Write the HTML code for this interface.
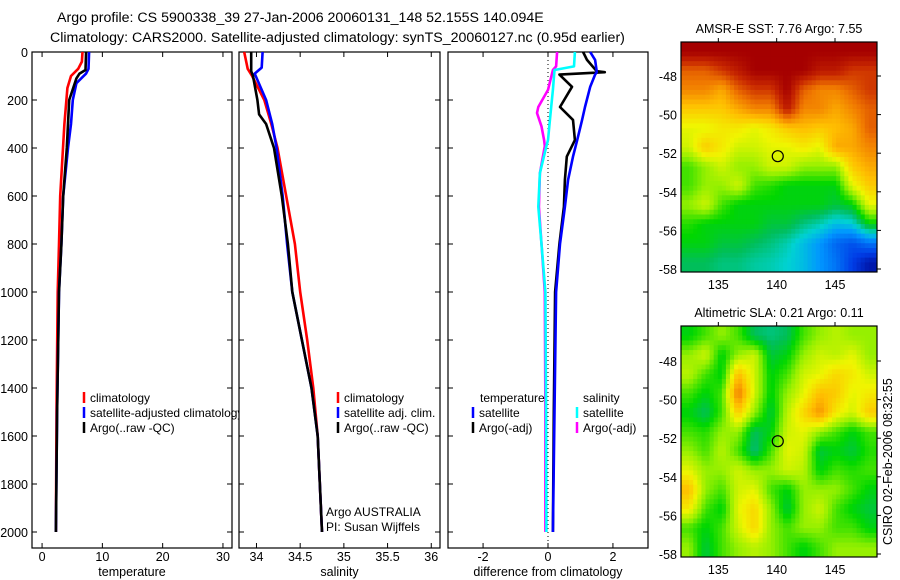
<!DOCTYPE html>
<html><head><meta charset="utf-8"><style>
body{margin:0;background:#fff;}
svg{display:block;font-family:"Liberation Sans",sans-serif;}
</style></head><body>
<svg id="fig" width="900" height="580" viewBox="0 0 900 580">
<text x="57" y="22" font-size="14.2">Argo profile: CS 5900338_39 27-Jan-2006 20060131_148 52.155S 140.094E</text>
<text x="50" y="42" font-size="14.2">Climatology: CARS2000. Satellite-adjusted climatology: synTS_20060127.nc (0.95d earlier)</text>
<text transform="translate(892,545) rotate(-90)" font-size="12.5">CSIRO 02-Feb-2006 08:32:55</text>
</svg>
<script>
// ---- profile data ----
const tDepthClim=[0,40,70,100,150,300,600,800,1000,1500,2000];
const tClim=[6.7,6.6,6.0,4.8,4.2,3.7,3.0,2.8,2.6,2.4,2.3];
const tDepthArgo=[0,75,90,110,200,300,400,600,800,1000,1500,2000];
const tArgo=[7.3,7.2,6.2,5.7,4.5,4.3,4.1,3.5,3.2,2.8,2.5,2.3];
const tDepthSat=[0,70,90,130,200,300,400,600,800,1000,1500,2000];
const tSat=[7.8,7.7,7.3,5.7,5.1,4.8,4.3,3.5,3.2,2.8,2.5,2.3];

const sDepthClim=[0,70,100,200,300,400,600,800,1000,1200,1400,1600,2000];
const sClim=[33.86,33.9,33.95,34.09,34.17,34.24,34.34,34.44,34.50,34.58,34.65,34.70,34.75];
const sDepthSat=[0,65,90,200,300,400,600,800,1000,1200,1400,1600,2000];
const sSat=[34.07,34.06,33.98,34.11,34.18,34.23,34.30,34.35,34.41,34.52,34.63,34.70,34.75];
const sDepthArgo=[0,80,100,200,260,300,400,600,800,1000,1200,1400,1600,2000];
const sArgo=[33.94,33.94,33.96,34.01,34.03,34.11,34.20,34.29,34.36,34.41,34.52,34.63,34.70,34.75];

const dDepthTS=[0,33,80,84,94,145,229,283,367,436,533,645,800,1000,1500,2000];
const dTempSat=[1.3,1.45,1.5,1.5,1.45,1.3,1.14,1.05,0.9,0.77,0.62,0.52,0.37,0.25,0.2,0.15];
const dTempArgo=[1.08,1.2,1.5,1.75,0.35,0.74,0.37,0.77,0.83,0.58,0.52,0.49,0.35,0.22,0.18,0.15];
const dDepthS=[0,60,75,158,229,254,310,367,392,505,645,800,1000,1500,2000];
const dSalSat=[0.83,0.8,0.2,0.15,0.1,0.08,0.04,0.0,-0.05,-0.25,-0.3,-0.2,-0.08,-0.06,-0.05];
const dSalArgo=[0.28,0.25,0.15,0.0,-0.3,-0.34,-0.2,-0.12,-0.1,-0.25,-0.28,-0.2,-0.1,-0.08,-0.08];

// ---- map data (0..1 colour index) ----
const sstGrid=[
[1,1,1,1,1,1,1,1,1,1,1,1],
[.85,.85,.9,.95,1,1,1,1,.95,.95,.9,.9],
[.8,.8,.75,.85,.9,.9,1,.85,.8,.8,.85,.9],
[.7,.7,.7,.75,.8,.8,.95,.8,.8,.75,.8,.85],
[.62,.62,.65,.65,.62,.65,.7,.72,.7,.72,.75,.85],
[.6,.7,.65,.6,.6,.62,.62,.65,.62,.75,.75,.8],
[.5,.55,.6,.55,.55,.6,.6,.55,.55,.55,.7,.75],
[.5,.55,.55,.6,.5,.48,.45,.45,.45,.45,.62,.7],
[.55,.6,.5,.45,.45,.45,.45,.45,.45,.42,.45,.62],
[.48,.45,.45,.45,.45,.42,.42,.38,.35,.3,.32,.45],
[.45,.45,.42,.42,.4,.38,.35,.3,.25,.18,.15,.2],
[.4,.4,.38,.38,.36,.35,.33,.3,.25,.2,.12,.05]];
const slaGrid=[
[.45,.5,.55,.5,.4,.38,.4,.5,.55,.58,.55,.55],
[.55,.6,.45,.55,.6,.42,.45,.55,.6,.58,.62,.55],
[.58,.5,.45,.72,.6,.45,.5,.6,.62,.68,.65,.6],
[.5,.45,.5,.82,.6,.45,.55,.62,.72,.7,.62,.65],
[.45,.4,.5,.7,.55,.42,.58,.68,.78,.65,.6,.7],
[.5,.48,.55,.55,.4,.45,.6,.62,.55,.5,.45,.5],
[.55,.5,.58,.5,.38,.5,.62,.6,.42,.45,.42,.48],
[.62,.55,.55,.6,.55,.55,.6,.58,.45,.5,.48,.5],
[.72,.55,.5,.6,.62,.5,.45,.55,.55,.55,.5,.45],
[.65,.5,.45,.62,.68,.55,.42,.55,.6,.5,.45,.42],
[.5,.45,.5,.6,.68,.55,.5,.55,.55,.5,.5,.45],
[.55,.42,.5,.55,.58,.55,.5,.45,.5,.55,.55,.55]];
const depthTicks=[0,200,400,600,800,1000,1200,1400,1600,1800,2000];
const tempTicks=[0,10,20,30];
const salTicks=[34,34.5,35,35.5,36];
const diffTicks=[-2,0,2];
const lonTicks=[135,140,145];
const latTicks=[-48,-50,-52,-54,-56,-58];
const floatLon=140.094, floatLat=-52.155;

const NS='http://www.w3.org/2000/svg';
const svg=document.getElementById('fig');
function el(tag,attrs,parent){const e=document.createElementNS(NS,tag);for(const k in attrs)e.setAttribute(k,attrs[k]);(parent||svg).appendChild(e);return e;}
const Y0=52,Y1=548,DMAX=(Y1-Y0)/0.24;
const ys=d=>Y0+d*(Y1-Y0)/DMAX;

function panel(name,x0,x1,xmin,xmax,ticks,xlabel,showY){
  const xs=v=>x0+(v-xmin)/(xmax-xmin)*(x1-x0);
  const g=el('g',{});
  
  
  const r=el('rect',{x:x0,y:Y0,width:x1-x0,height:Y1-Y0,fill:'#fff',stroke:'#000','stroke-width':1.2},g);
  
  
  depthTicks.forEach(d=>{
    el('line',{x1:x0,x2:x0+5,y1:ys(d),y2:ys(d),stroke:'#000'},g);
    el('line',{x1:x1-5,x2:x1,y1:ys(d),y2:ys(d),stroke:'#000'},g);
    if(showY){const t=el('text',{x:x0-4,y:ys(d)+5,'text-anchor':'end','font-size':12.5},g);t.textContent=d;
      
      }
  });
  ticks.forEach(v=>{
    el('line',{x1:xs(v),x2:xs(v),y1:Y0,y2:Y0+5,stroke:'#000'},g);
    el('line',{x1:xs(v),x2:xs(v),y1:Y1-5,y2:Y1,stroke:'#000'},g);
    const t=el('text',{x:xs(v),y:561,'text-anchor':'middle','font-size':12.5},g);t.textContent=v;
    
    
  });
  const t=el('text',{x:(x0+x1)/2,y:576,'text-anchor':'middle','font-size':12.5},g);t.textContent=xlabel;
  
  
  return {xs,g};
}
function line(p,depths,vals,color,name){
  const pts=depths.map((d,i)=>p.xs(vals[i]).toFixed(1)+','+ys(d).toFixed(1)).join(' ');
  const l=el('polyline',{points:pts,fill:'none',stroke:color,'stroke-width':2.6,'stroke-linejoin':'round'},p.g);
  
  
}
function legend(g,x,y,color,text,name){
  el('line',{x1:x,x2:x,y1:y-10,y2:y+1,stroke:color,'stroke-width':2.5},g);
  const t=el('text',{x:x+6,y:y,'font-size':12},g);t.textContent=text;
  
  
}

const p1=panel('temperature-panel',32,232,-1.67,31.5,tempTicks,'temperature',true);
line(p1,tDepthClim,tClim,'#f00','temp-climatology-line');
line(p1,tDepthSat,tSat,'#00f','temp-satellite-line');
line(p1,tDepthArgo,tArgo,'#000','temp-argo-line');
legend(p1.g,84,402,'#f00','climatology','legend-climatology');
legend(p1.g,84,417,'#00f','satellite-adjusted climatology','legend-satellite');
legend(p1.g,84,432,'#000','Argo(..raw -QC)','legend-argo');

const p2=panel('salinity-panel',239,440,33.80,36.10,salTicks,'salinity',false);
line(p2,sDepthClim,sClim,'#f00','sal-climatology-line');
line(p2,sDepthSat,sSat,'#00f','sal-satellite-line');
line(p2,sDepthArgo,sArgo,'#000','sal-argo-line');
legend(p2.g,338,402,'#f00','climatology','legend-sal-climatology');
legend(p2.g,338,417,'#00f','satellite adj. clim.','legend-sal-satellite');
legend(p2.g,338,432,'#000','Argo(..raw -QC)','legend-sal-argo');
let tt=el('text',{x:326,y:516,'font-size':12},p2.g);tt.textContent='Argo AUSTRALIA';


tt=el('text',{x:326,y:531,'font-size':12},p2.g);tt.textContent='PI: Susan Wijffels';



const p3=panel('difference-panel',448,648,-3.08,3.08,diffTicks,'difference from climatology',false);
el('line',{x1:p3.xs(0),x2:p3.xs(0),y1:Y0,y2:Y1,stroke:'#000','stroke-dasharray':'1,3'},p3.g);
line(p3,dDepthS,dSalArgo,'#f0f','diff-sal-argo-line');
line(p3,dDepthS,dSalSat,'#0ff','diff-sal-satellite-line');
line(p3,dDepthTS,dTempArgo,'#000','diff-temp-argo-line');
line(p3,dDepthTS,dTempSat,'#00f','diff-temp-satellite-line');
tt=el('text',{x:480,y:402,'font-size':12},p3.g);tt.textContent='temperature';


tt=el('text',{x:583,y:402,'font-size':12},p3.g);tt.textContent='salinity';


legend(p3.g,473,417,'#00f','satellite','legend-diff-temp-sat');
legend(p3.g,473,432,'#000','Argo(-adj)','legend-diff-temp-argo');
legend(p3.g,577,417,'#0ff','satellite','legend-diff-sal-sat');
legend(p3.g,577,432,'#f0f','Argo(-adj)','legend-diff-sal-argo');

// ---- maps ----
const stops=[[0,[0,0,130]],[0.12,[0,60,230]],[0.25,[0,150,255]],[0.33,[0,210,210]],[0.4,[0,190,90]],[0.46,[0,215,0]],[0.55,[150,240,0]],[0.63,[240,245,0]],[0.72,[255,190,0]],[0.82,[240,120,0]],[0.92,[200,40,0]],[1,[165,0,0]]];
function cmap(v){for(let i=1;i<stops.length;i++){if(v<=stops[i][0]){const a=stops[i-1],b=stops[i],f=(v-a[0])/(b[0]-a[0]);return 'rgb('+a[1].map((c,k)=>Math.round(c+(b[1][k]-c)*f)).join(',')+')';}}return 'rgb(165,0,0)';}
function sample(grid,fr,fc){
  const R=grid.length,C=grid[0].length;
  const r=Math.min(Math.max(fr,0),R-1),c=Math.min(Math.max(fc,0),C-1);
  const r0=Math.floor(r),c0=Math.floor(c),r1=Math.min(r0+1,R-1),c1=Math.min(c0+1,C-1);
  const a=r-r0,b=c-c0;
  return grid[r0][c0]*(1-a)*(1-b)+grid[r0][c1]*(1-a)*b+grid[r1][c0]*a*(1-b)+grid[r1][c1]*a*b;
}
function map(name,top,bot,grid,title,lat48,lat58){
  const x0=681,x1=877,lon0=131.8,lon1=148.6;
  const xs=v=>x0+(v-lon0)/(lon1-lon0)*(x1-x0);
  const yl=v=>lat48+(v+48)/(-10)*(lat58-lat48);
  const g=el('g',{});
  
  
  const R=grid.length,C=grid[0].length,UP=4;
  const NR=R*UP,NC=C*UP,cw=(x1-x0)/NC,ch=(bot-top)/NR;
  for(let r=0;r<NR;r++)for(let c=0;c<NC;c++){
    const v=sample(grid,(r+0.5)/UP-0.5,(c+0.5)/UP-0.5);
    const cell=el('rect',{x:(x0+c*cw).toFixed(2),y:(top+r*ch).toFixed(2),width:(cw+0.5).toFixed(2),height:(ch+0.5).toFixed(2),fill:cmap(v)},g);
    
    
  }
  el('rect',{x:x0,y:top,width:x1-x0,height:bot-top,fill:'none',stroke:'#000','stroke-width':1.2},g);
  lonTicks.forEach(v=>{
    el('line',{x1:xs(v),x2:xs(v),y1:top-4,y2:top,stroke:'#000'},g);
    const t=el('text',{x:xs(v),y:bot+17,'text-anchor':'middle','font-size':12.5},g);t.textContent=v;
    
    
  });
  latTicks.forEach(v=>{
    el('line',{x1:x1,x2:x1+4,y1:yl(v),y2:yl(v),stroke:'#000'},g);
    const t=el('text',{x:x0-4,y:yl(v)+5,'text-anchor':'end','font-size':12.5},g);t.textContent=v;
    
    
  });
  const c=el('circle',{cx:xs(floatLon),cy:yl(floatLat),r:5.5,fill:'none',stroke:'#000','stroke-width':1.2},g);
  
  
  const t=el('text',{x:(x0+x1)/2,y:top-9,'text-anchor':'middle','font-size':12.5},g);t.textContent=title;
  
  
}
map('sst-map',42,272,sstGrid,'AMSR-E SST: 7.76 Argo: 7.55',76,269);
map('sla-map',326,557,slaGrid,'Altimetric SLA: 0.21 Argo: 0.11',361,554);
</script>
</body></html>
